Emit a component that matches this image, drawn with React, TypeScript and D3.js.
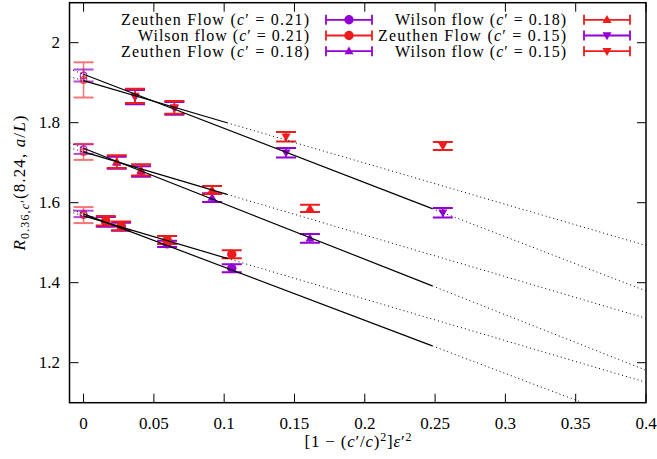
import React from "react";
import * as d3 from "d3";

// ---------- data ----------
const xC021 = [0.0158, 0.0267, 0.0594, 0.1054];
const xC018 = [0.0236, 0.0409, 0.0914, 0.161];
const xC015 = [0.0366, 0.0646, 0.144, 0.2555];

const zeuthen021 = [1.552, 1.54, 1.497, 1.436];
const zeuthen021Err = [0.012, 0.01, 0.008, 0.01];
const wilson021 = [1.555, 1.542, 1.507, 1.471];
const wilson021Err = [0.012, 0.011, 0.01, 0.01];

const zeuthen018 = [1.7, 1.678, 1.6125, 1.511];
const zeuthen018Err = [0.015, 0.013, 0.011, 0.011];
const wilson018 = [1.7025, 1.682, 1.632, 1.586];
const wilson018Err = [0.016, 0.014, 0.01, 0.009];

const zeuthen015 = [1.864, 1.836, 1.725, 1.575];
const zeuthen015Err = [0.018, 0.016, 0.012, 0.012];
const wilson015 = [1.867, 1.8385, 1.765, 1.742];
const wilson015Err = [0.018, 0.016, 0.012, 0.01];

// continuum (x = 0) values for c' = 0.21, 0.18, 0.15
const zeuthenCont = [1.572, 1.734, 1.918];
const zeuthenContErr = [0.008, 0.012, 0.015];
const wilsonCont = [1.569, 1.727, 1.907];
const wilsonContErr = [0.02, 0.02, 0.044];

// linear fits for c' = 0.21, 0.18, 0.15
const zeuthenFitIntercept = [1.572, 1.736, 1.921];
const zeuthenFitSlope = [-1.33, -1.387, -1.354];
const zeuthenFitEnd = 0.248;
const wilsonFitIntercept = [1.567, 1.727, 1.905];
const wilsonFitSlope = [-1.04, -1.04, -1.03];
const wilsonFitEnd = 0.102;

const xTicks = [0, 0.05, 0.1, 0.15, 0.2, 0.25, 0.3, 0.35, 0.4];
const xTickLabels = ["0", "0.05", "0.1", "0.15", "0.2", "0.25", "0.3", "0.35", "0.4"];
const yTicks = [1.2, 1.4, 1.6, 1.8, 2.0];
const yTickLabels = ["1.2", "1.4", "1.6", "1.8", "2"];

// ---------- styling ----------
const PURPLE = "#9400d3";
const RED = "#ee1c1c";
const FONT = '"Liberation Serif", "DejaVu Serif", serif';

const X0 = 69.5, X1 = 646, Y0 = 2.7, Y1 = 402.7;
const x = d3.scaleLinear().domain([-0.01, 0.4]).range([X0, X1]);
const y = d3.scaleLinear().domain([1.1, 2.1]).range([Y1, Y0]);

type Shape = "circle" | "up" | "down";
const series = [
  { name: "Zeuthen Flow", cp: "0.21", xs: xC021, ys: zeuthen021, es: zeuthen021Err, color: PURPLE, shape: "circle" as Shape },
  { name: "Wilson flow", cp: "0.21", xs: xC021, ys: wilson021, es: wilson021Err, color: RED, shape: "circle" as Shape },
  { name: "Zeuthen Flow", cp: "0.18", xs: xC018, ys: zeuthen018, es: zeuthen018Err, color: PURPLE, shape: "up" as Shape },
  { name: "Wilson flow", cp: "0.18", xs: xC018, ys: wilson018, es: wilson018Err, color: RED, shape: "up" as Shape },
  { name: "Zeuthen Flow", cp: "0.15", xs: xC015, ys: zeuthen015, es: zeuthen015Err, color: PURPLE, shape: "down" as Shape },
  { name: "Wilson flow", cp: "0.15", xs: xC015, ys: wilson015, es: wilson015Err, color: RED, shape: "down" as Shape },
];

const triPath = d3.symbol().type(d3.symbolTriangle).size(36)() as string;

function Marker({ cx, cy, shape, color }: { cx: number; cy: number; shape: Shape; color: string }) {
  if (shape === "circle") return <circle cx={cx} cy={cy} r={4.7} fill={color} />;
  return (
    <path d={triPath} fill={color}
      transform={`translate(${cx},${cy + (shape === "down" ? -0.5 : 0.5)}) rotate(${shape === "down" ? 180 : 0})`} />
  );
}

function ErrBar({ cx, v, e, color, opacity = 1 }: { cx: number; v: number; e: number; color: string; opacity?: number }) {
  const yt = y(v + e), yb = y(v - e);
  return (
    <g stroke={color} strokeWidth={2} opacity={opacity}>
      <line x1={cx} x2={cx} y1={yt} y2={yb} strokeWidth={1.5} />
      <line x1={cx - 10} x2={cx + 10} y1={yt} y2={yt} />
      <line x1={cx - 10} x2={cx + 10} y1={yb} y2={yb} />
    </g>
  );
}

function FitLine({ a, b, end }: { a: number; b: number; end: number }) {
  const f = (t: number) => a + b * t;
  const line = d3.line<number>().x((t) => x(t)).y((t) => y(f(t)));
  return (
    <g fill="none" stroke="#000">
      <path d={line([-0.01, 0]) as string} strokeWidth={1} strokeDasharray="1,3" />
      <path d={line([0, end]) as string} strokeWidth={1.2} />
      <path d={line([end, 0.4]) as string} strokeWidth={1} strokeDasharray="1,3" />
    </g>
  );
}

const legendRows = [19.8, 35.5, 51.2];
const legendCols = [
  { textRight: 309, sx0: 326, sx1: 372 },
  { textRight: 566, sx0: 584, sx1: 630 },
];

export default function App() {
  return (
    <svg width={657} height={459} style={{ position: "absolute", left: 0, top: 0, background: "#fff", fontFamily: FONT }}>
      <defs>
        <clipPath id="plotclip">
          <rect x={X0} y={Y0} width={X1 - X0} height={Y1 - Y0} />
        </clipPath>
      </defs>

      {/* axes ticks */}
      <g stroke="#000" strokeWidth={1}>
        {xTicks.map((t) => (
          <g key={"xt" + t}>
            <line x1={x(t)} x2={x(t)} y1={Y1} y2={Y1 - 9} />
            <line x1={x(t)} x2={x(t)} y1={Y0} y2={Y0 + 9} />
          </g>
        ))}
        {yTicks.map((t) => (
          <g key={"yt" + t}>
            <line x1={X0} x2={X0 + 9} y1={y(t)} y2={y(t)} />
            <line x1={X1} x2={X1 - 9} y1={y(t)} y2={y(t)} />
          </g>
        ))}
      </g>
      <g fontSize={17} fill="#000">
        {xTicks.map((t, i) => (
          <text key={"xl" + t} x={x(t)} y={429} textAnchor="middle">{xTickLabels[i]}</text>
        ))}
        {yTicks.map((t, i) => (
          <text key={"yl" + t} x={60} y={y(t) + 5.5} textAnchor="end">{yTickLabels[i]}</text>
        ))}
      </g>

      {/* axis titles */}
      <text x={358} y={447} textAnchor="middle" fontSize={17} textLength={107} lengthAdjust="spacing">
        [1 − (<tspan fontStyle="italic">c</tspan>′/<tspan fontStyle="italic">c</tspan>)
        <tspan dy={-6} fontSize={12}>2</tspan>
        <tspan dy={6}>]</tspan>
        <tspan fontStyle="italic">ε</tspan>′<tspan dy={-6} fontSize={12}>2</tspan>
      </text>
      <text transform="translate(25,183) rotate(-90)" textAnchor="middle" fontSize={17}
        textLength={135} lengthAdjust="spacing">
        <tspan fontStyle="italic">R</tspan>
        <tspan dy={4} fontSize={12}>0.36,<tspan fontStyle="italic">c</tspan>′</tspan>
        <tspan dy={-4}>(8.24, </tspan>
        <tspan fontStyle="italic">a</tspan>/<tspan fontStyle="italic">L</tspan>)
      </text>

      <g clipPath="url(#plotclip)">
        {/* continuum points at x = 0 */}
        {zeuthenCont.map((v, i) => (
          <g key={"zc" + i}>
            <ErrBar cx={x(0)} v={v} e={zeuthenContErr[i]} color={PURPLE} opacity={0.7} />
            <circle cx={x(0)} cy={y(v)} r={3.3} fill="none" stroke={PURPLE} strokeWidth={1.2} opacity={0.8} />
          </g>
        ))}
        {wilsonCont.map((v, i) => (
          <g key={"wc" + i}>
            <ErrBar cx={x(0)} v={v} e={wilsonContErr[i]} color={RED} opacity={0.6} />
            <circle cx={x(0)} cy={y(v)} r={3.3} fill="none" stroke={RED} strokeWidth={1.2} opacity={0.8} />
          </g>
        ))}

        {/* data series */}
        {series.map((s, si) => (
          <g key={"s" + si}>
            {s.xs.map((xv, i) => (
              <g key={i}>
                <ErrBar cx={x(xv)} v={s.ys[i]} e={s.es[i]} color={s.color} />
                <Marker cx={x(xv)} cy={y(s.ys[i])} shape={s.shape} color={s.color} />
              </g>
            ))}
          </g>
        ))}

        {/* fits */}
        {zeuthenFitIntercept.map((a, i) => (
          <FitLine key={"zf" + i} a={a} b={zeuthenFitSlope[i]} end={zeuthenFitEnd} />
        ))}
        {wilsonFitIntercept.map((a, i) => (
          <FitLine key={"wf" + i} a={a} b={wilsonFitSlope[i]} end={wilsonFitEnd} />
        ))}
      </g>

      {/* legend */}
      <g fontSize={16}>
        {series.map((s, i) => {
          const col = legendCols[Math.floor(i / 3)];
          const ry = legendRows[i % 3];
          const cx = (col.sx0 + col.sx1) / 2;
          const isZ = s.name.startsWith("Zeuthen");
          return (
            <g key={"lg" + i}>
              <text x={col.textRight} y={ry + 5.5} textAnchor="end"
                textLength={isZ ? 188 : 171} lengthAdjust="spacing">
                {s.name} (<tspan fontStyle="italic">c</tspan>′ = {s.cp})
              </text>
              <g stroke={s.color} strokeWidth={1.8}>
                <line x1={col.sx0} x2={col.sx1} y1={ry} y2={ry} />
                <line x1={col.sx0} x2={col.sx0} y1={ry - 5} y2={ry + 5} />
                <line x1={col.sx1} x2={col.sx1} y1={ry - 5} y2={ry + 5} />
              </g>
              <Marker cx={cx} cy={ry} shape={s.shape} color={s.color} />
            </g>
          );
        })}
      </g>

      {/* frame */}
      <rect x={X0} y={Y0} width={X1 - X0} height={Y1 - Y0} fill="none" stroke="#000" strokeWidth={1.5} />
    </svg>
  );
}
